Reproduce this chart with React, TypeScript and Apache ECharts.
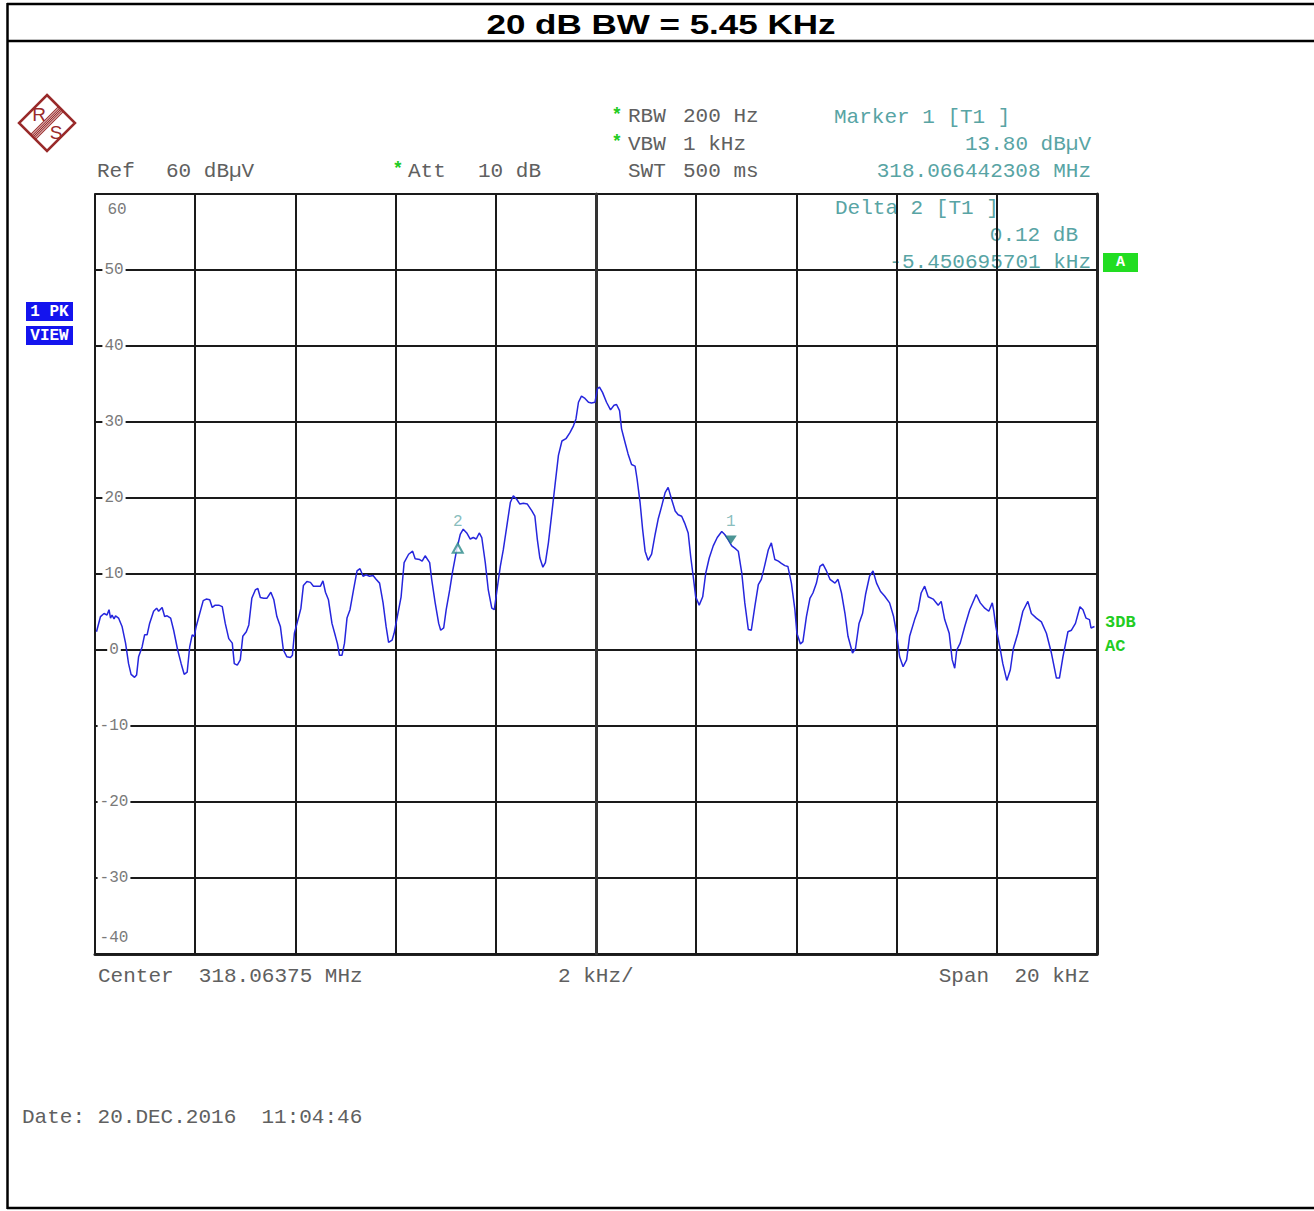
import React, { useEffect, useRef } from "react";
import * as echarts from "echarts";

// ---- data (frequency offset from center in kHz, level in dBµV) ----
const freqOffsetKHz = [
  -9.97, -9.89, -9.82, -9.76, -9.72, -9.69, -9.66, -9.62, -9.59, -9.53, -9.46, -9.39, -9.33, -9.28, -9.21, -9.17,
  -9.13, -9.06, -9.01, -8.96, -8.91, -8.83, -8.77, -8.73, -8.66, -8.61, -8.56, -8.49, -8.43, -8.35, -8.28, -8.22,
  -8.16, -8.11, -8.06, -8.02, -7.98, -7.91, -7.84, -7.78, -7.71, -7.66, -7.6, -7.53, -7.46, -7.4, -7.33, -7.26,
  -7.22, -7.16, -7.1, -7.05, -6.98, -6.93, -6.87, -6.8, -6.75, -6.7, -6.63, -6.57, -6.49, -6.43, -6.37, -6.3,
  -6.24, -6.17, -6.1, -6.06, -6.02, -5.96, -5.89, -5.84, -5.77, -5.7, -5.64, -5.57, -5.5, -5.45, -5.4, -5.34,
  -5.27, -5.2, -5.16, -5.12, -5.07, -5.02, -4.97, -4.91, -4.84, -4.77, -4.71, -4.65, -4.59, -4.52, -4.45, -4.39,
  -4.32, -4.25, -4.19, -4.14, -4.07, -4.03, -3.96, -3.89, -3.83, -3.74, -3.66, -3.61, -3.52, -3.47, -3.41, -3.32,
  -3.28, -3.21, -3.14, -3.1, -3.04, -2.99, -2.92, -2.86, -2.78, -2.71, -2.65, -2.58, -2.51, -2.45, -2.39, -2.33,
  -2.28, -2.21, -2.15, -2.08, -2.03, -1.98, -1.91, -1.85, -1.78, -1.71, -1.65, -1.58, -1.52, -1.45, -1.37, -1.28,
  -1.22, -1.17, -1.12, -1.06, -1.01, -0.95, -0.88, -0.82, -0.75, -0.68, -0.6, -0.52, -0.45, -0.4, -0.35, -0.29,
  -0.22, -0.15, -0.09, -0.02, 0.03, 0.07, 0.13, 0.21, 0.29, 0.36, 0.41, 0.47, 0.51, 0.58, 0.64, 0.71,
  0.78, 0.82, 0.88, 0.93, 0.98, 1.04, 1.11, 1.18, 1.24, 1.31, 1.38, 1.44, 1.51, 1.58, 1.64, 1.71,
  1.77, 1.84, 1.89, 1.94, 1.99, 2.06, 2.13, 2.19, 2.26, 2.34, 2.42, 2.51, 2.57, 2.64, 2.71, 2.77,
  2.84, 2.91, 2.97, 3.04, 3.1, 3.17, 3.24, 3.3, 3.37, 3.44, 3.5, 3.57, 3.64, 3.7, 3.77, 3.83,
  3.9, 3.97, 4.01, 4.08, 4.13, 4.2, 4.27, 4.33, 4.4, 4.47, 4.53, 4.6, 4.67, 4.77, 4.83, 4.9,
  4.97, 5.03, 5.12, 5.18, 5.25, 5.32, 5.38, 5.46, 5.53, 5.6, 5.68, 5.76, 5.86, 5.94, 6.0, 6.06,
  6.13, 6.2, 6.26, 6.36, 6.43, 6.49, 6.56, 6.63, 6.73, 6.83, 6.89, 6.96, 7.05, 7.11, 7.16, 7.2,
  7.27, 7.36, 7.46, 7.59, 7.67, 7.76, 7.84, 7.91, 7.94, 7.98, 8.06, 8.12, 8.2, 8.27, 8.33, 8.42,
  8.52, 8.62, 8.69, 8.79, 8.89, 8.99, 9.09, 9.19, 9.25, 9.32, 9.42, 9.49, 9.57, 9.66, 9.72, 9.78,
  9.85, 9.88, 9.95,
];

const levelDbuV = [
  2.4, 4.4, 4.8, 4.6, 5.3, 4.2, 4.6, 4.1, 4.5, 4.2, 3.1, 0.9, -1.8, -3.2, -3.6, -3.3,
  -0.9, 0.4, 2.0, 2.0, 3.5, 5.1, 5.5, 5.1, 5.6, 4.4, 4.5, 4.2, 2.6, 0, -1.8, -3.2,
  -2.9, 0.4, 2.0, 1.8, 3.1, 4.8, 6.5, 6.7, 6.6, 5.6, 5.9, 5.9, 5.7, 3.5, 1.5, 0.9,
  -1.8, -2.0, -1.3, 1.8, 2.4, 3.3, 6.8, 7.9, 8.1, 6.9, 6.8, 6.8, 7.6, 6.6, 4.4, 3.1,
  0, -0.9, -1.0, -0.7, 2.2, 3.7, 5.5, 8.5, 9.0, 8.9, 8.4, 8.4, 8.4, 9.1, 7.6, 6.6,
  3.5, 1.8, 0.8, -0.7, -0.7, 0.9, 4.2, 5.3, 7.9, 10.4, 10.7, 9.7, 9.9, 9.7, 9.8, 9.3,
  8.8, 6.2, 3.1, 1.0, 1.3, 2.2, 4.6, 7.0, 11.5, 12.6, 13.0, 12.0, 11.9, 11.7, 12.4, 11.5,
  9.3, 6.2, 3.5, 2.6, 2.9, 5.3, 7.9, 10.4, 13.2, 15.2, 15.9, 15.4, 14.6, 14.8, 14.6, 15.4,
  14.8, 11.5, 7.9, 5.5, 5.3, 7.7, 11.0, 13.2, 16.3, 19.4, 20.3, 19.8, 19.2, 19.3, 19.2, 18.3,
  17.6, 14.5, 12.1, 10.9, 11.5, 14.1, 18.1, 21.6, 25.6, 27.5, 27.8, 28.6, 29.5, 30.4, 32.6, 33.4,
  33.1, 32.6, 32.5, 32.6, 34.4, 34.6, 33.9, 32.6, 31.6, 32.2, 32.3, 31.5, 29.1, 27.3, 25.8, 24.4,
  24.2, 22.5, 19.4, 15.9, 13.0, 11.8, 12.6, 15.2, 17.2, 18.9, 20.7, 21.4, 19.8, 18.3, 17.8, 17.6,
  16.7, 15.4, 12.3, 9.7, 7.0, 5.9, 7.0, 10.1, 12.1, 13.7, 14.8, 15.6, 15.2, 14.5, 13.7, 13.4,
  13.0, 10.1, 6.2, 2.7, 2.6, 5.7, 8.6, 9.3, 11.2, 13.2, 14.1, 11.9, 11.7, 11.4, 11.1, 11.0,
  8.8, 5.3, 2.2, 0.8, 1.1, 4.4, 6.8, 7.5, 8.8, 11.0, 11.3, 10.4, 9.3, 8.8, 9.3, 7.5,
  4.8, 1.8, -0.4, 0.2, 3.5, 4.8, 7.3, 9.7, 10.4, 8.8, 7.7, 7.1, 6.2, 4.4, 2.2, -0.9,
  -2.2, -1.3, 1.8, 4.0, 5.3, 7.5, 8.4, 7.0, 6.7, 5.9, 6.4, 4.0, 2.2, -1.3, -2.4, 0,
  0.9, 3.1, 5.3, 7.3, 6.2, 5.5, 5.1, 6.2, 5.1, 3.1, 0.4, -1.8, -4.0, -2.6, 0.2, 2.2,
  5.1, 6.4, 4.8, 4.2, 3.7, 2.2, -0.4, -3.7, -3.7, -0.9, 2.4, 2.6, 3.5, 5.7, 5.3, 4.2,
  4.0, 2.9, 3.1,
];

const markerNames = ["1", "2"];
const markerFreqKHz = [2.69, -2.76];
const markerLevel = [13.8, 13.92];

const yMin = -40;
const yMax = 60;
const yStep = 10;
const xMin = -10;
const xMax = 10;
const xStep = 2;

const MONO = '"Liberation Mono", "DejaVu Sans Mono", monospace';
const GREY = "#606060";
const TEAL = "#58a4a4";
const GREEN = "#22cc22";

function txt(x: number, y: number, text: string, o: any = {}) {
  const size = o.size ?? 21;
  const weight = o.weight ?? "normal";
  const fam = o.family ?? MONO;
  const align = o.align ?? "left";
  return {
    type: "text",
    x,
    y,
    z: o.z ?? 10,
    scaleX: o.scaleX ?? 1,
    silent: true,
    style: {
      text,
      fill: o.fill ?? GREY,
      font: `${weight} ${size}px ${fam}`,
      align,
      textAlign: align,
      verticalAlign: "middle",
      textVerticalAlign: "middle",
    },
  };
}

export default function App() {
  const ref = useRef<HTMLDivElement>(null);

  useEffect(() => {
    if (!ref.current) return;
    const chart = echarts.init(ref.current, undefined, { renderer: "svg" });

    const trace = freqOffsetKHz.map((f, i) => [f, levelDbuV[i]]);
    const markers = markerNames.map((n, i) => {
      const isRef = i === 0;
      return {
        name: n,
        value: [markerFreqKHz[i], markerLevel[i]],
        symbol: isRef ? "triangle" : "emptyTriangle",
        symbolRotate: isRef ? 180 : 0,
        symbolSize: isRef ? [12, 9] : [10, 9],
        symbolOffset: isRef ? [0, -5] : [0, 4],
        itemStyle: isRef
          ? { color: "#1f7a7a" }
          : { color: "#2a8a8a", borderColor: "#2a8a8a", borderWidth: 1.5 },
        label: {
          show: true,
          position: "top",
          distance: isRef ? 6 : 13,
          formatter: n,
          color: "#6aacac",
          fontSize: 16,
          fontFamily: MONO,
        },
      };
    });

    const labelStyle = { color: "#7a7a7a", fontSize: 16, fontFamily: MONO };

    const logoColor = "#992a2a";
    const cx = 47;
    const cy = 123;
    const h = 28;
    const bandLines: any[] = [];
    [-2.4, -1.2, 0, 1.2, 2.4].forEach((k) => {
      bandLines.push({
        type: "line",
        silent: true,
        shape: { x1: cx + 14 + k, y1: cy - 14 + k, x2: cx - 14 + k, y2: cy + 14 + k },
        style: { stroke: logoColor, lineWidth: 1.1 },
      });
    });

    const graphic: any[] = [
      // frame
      {
        type: "line",
        silent: true,
        shape: { x1: 7, y1: 4, x2: 1314, y2: 4 },
        style: { stroke: "#000", lineWidth: 2.5 },
      },
      {
        type: "line",
        silent: true,
        shape: { x1: 7, y1: 41, x2: 1314, y2: 41 },
        style: { stroke: "#000", lineWidth: 2.5 },
      },
      {
        type: "line",
        silent: true,
        shape: { x1: 7, y1: 1208, x2: 1314, y2: 1208 },
        style: { stroke: "#000", lineWidth: 2.5 },
      },
      {
        type: "line",
        silent: true,
        shape: { x1: 7.5, y1: 3, x2: 7.5, y2: 1209 },
        style: { stroke: "#000", lineWidth: 2.5 },
      },
      txt(661, 24, "20 dB BW = 5.45 KHz", {
        size: 28,
        weight: "bold",
        family: '"Liberation Sans", Arial, sans-serif',
        align: "center",
        fill: "#000",
        scaleX: 1.25,
      }),
      // logo
      {
        type: "polygon",
        silent: true,
        shape: { points: [[cx, cy - h], [cx + h, cy], [cx, cy + h], [cx - h, cy]] },
        style: { fill: "none", stroke: logoColor, lineWidth: 2.5 },
      },
      ...bandLines,
      txt(39, 114, "R", { size: 19, family: '"Liberation Sans", sans-serif', fill: logoColor, align: "center" }),
      txt(56, 132, "S", { size: 19, family: '"Liberation Sans", sans-serif', fill: logoColor, align: "center" }),
      // header
      txt(617, 115, "*", { size: 18, fill: GREEN, align: "center", weight: "bold" }),
      txt(628, 116, "RBW", {}),
      txt(683, 116, "200 Hz", {}),
      txt(617, 142, "*", { size: 18, fill: GREEN, align: "center", weight: "bold" }),
      txt(628, 144, "VBW", {}),
      txt(683, 144, "1 kHz", {}),
      txt(628, 171, "SWT", {}),
      txt(683, 171, "500 ms", {}),
      txt(97, 171, "Ref", {}),
      txt(166, 171, "60 dB\u00b5V", {}),
      txt(398, 169, "*", { size: 18, fill: GREEN, align: "center", weight: "bold" }),
      txt(408, 171, "Att", {}),
      txt(478, 171, "10 dB", {}),
      txt(834, 117, "Marker 1 [T1 ]", { fill: TEAL }),
      txt(1091, 144, "13.80 dB\u00b5V", { fill: TEAL, align: "right" }),
      txt(1091, 171, "318.066442308 MHz", { fill: TEAL, align: "right" }),
      txt(835, 208, "Delta 2 [T1 ]", { fill: TEAL, z: 0 }),
      txt(1078, 235, "0.12 dB", { fill: TEAL, align: "right", z: 0 }),
      txt(1091, 262, "-5.450695701 kHz", { fill: TEAL, align: "right", z: 0 }),
      // A box
      {
        type: "rect",
        silent: true,
        shape: { x: 1103, y: 253, width: 35, height: 19 },
        style: { fill: "#22dd22" },
      },
      txt(1120.5, 262.5, "A", { size: 15, weight: "bold", fill: "#fff", align: "center" }),
      // 1 PK VIEW
      {
        type: "rect",
        silent: true,
        shape: { x: 26, y: 302, width: 47, height: 19 },
        style: { fill: "#1414ee" },
      },
      txt(49.5, 311.5, "1 PK", { size: 16, weight: "bold", fill: "#fff", align: "center" }),
      {
        type: "rect",
        silent: true,
        shape: { x: 26, y: 326, width: 47, height: 19 },
        style: { fill: "#1414ee" },
      },
      txt(49.5, 335.5, "VIEW", { size: 16, weight: "bold", fill: "#fff", align: "center" }),
      // right side
      txt(1105, 622, "3DB", { size: 17, weight: "bold", fill: GREEN }),
      txt(1105, 646, "AC", { size: 17, weight: "bold", fill: GREEN }),
      // bottom
      txt(98, 976, "Center  318.06375 MHz", {}),
      txt(558, 976, "2 kHz/", {}),
      txt(1090, 976, "Span  20 kHz", { align: "right" }),
      txt(22, 1117, "Date: 20.DEC.2016  11:04:46", {}),
    ];

    chart.setOption({
      animation: false,
      backgroundColor: "#ffffff",
      grid: {
        left: 95,
        right: 217,
        top: 194,
        bottom: 257,
        show: true,
        borderColor: "#444",
        borderWidth: 2,
        containLabel: false,
      },
      xAxis: {
        type: "value",
        min: xMin,
        max: xMax,
        interval: xStep,
        axisLabel: { show: false },
        axisTick: { show: false },
        axisLine: { show: true, onZero: false, lineStyle: { color: "#222", width: 3 } },
        splitLine: { show: true, lineStyle: { color: "#1a1a1a", width: 2 } },
      },
      yAxis: [
        {
          type: "value",
          min: yMin,
          max: yMax,
          interval: yStep,
          axisTick: { show: false },
          axisLine: { show: true, lineStyle: { color: "#333", width: 3 } },
          splitLine: { show: true, lineStyle: { color: "#1a1a1a", width: 2 } },
          axisLabel: {
            inside: true,
            align: "center",
            margin: 19,
            formatter: (v: number) =>
              v === yMax ? `{t|${v}}` : v === yMin ? `{b|${v}}` : `{m|${v}}`,
            rich: {
              m: { ...labelStyle, backgroundColor: "#ffffff", padding: [1, 2, 1, 2] },
              t: { ...labelStyle, padding: [32, 0, 0, 6] },
              b: { ...labelStyle, padding: [0, 0, 32, 0] },
            },
          },
          z: 3,
        },
        {
          type: "value",
          position: "right",
          min: yMin,
          max: yMax,
          interval: yStep,
          axisTick: { show: false },
          axisLabel: { show: false },
          splitLine: { show: false },
          axisLine: { show: true, lineStyle: { color: "#222", width: 3 } },
        },
      ],
      series: [
        {
          type: "line",
          data: trace,
          showSymbol: false,
          symbol: "none",
          smooth: false,
          lineStyle: { color: "#2626dd", width: 1.5 },
          z: 5,
          markLine: {
            silent: true,
            symbol: "none",
            label: { show: false },
            lineStyle: { color: "#111", width: 3, type: "solid" },
            data: [{ xAxis: 0 }],
            z: 2,
          },
        },
        {
          type: "scatter",
          data: markers,
          z: 8,
        },
      ],
      graphic,
    });

    return () => chart.dispose();
  }, []);

  return (
    <div
      ref={ref}
      style={{ position: "absolute", left: 0, top: 0, width: 1314, height: 1211, background: "#fff" }}
    />
  );
}
